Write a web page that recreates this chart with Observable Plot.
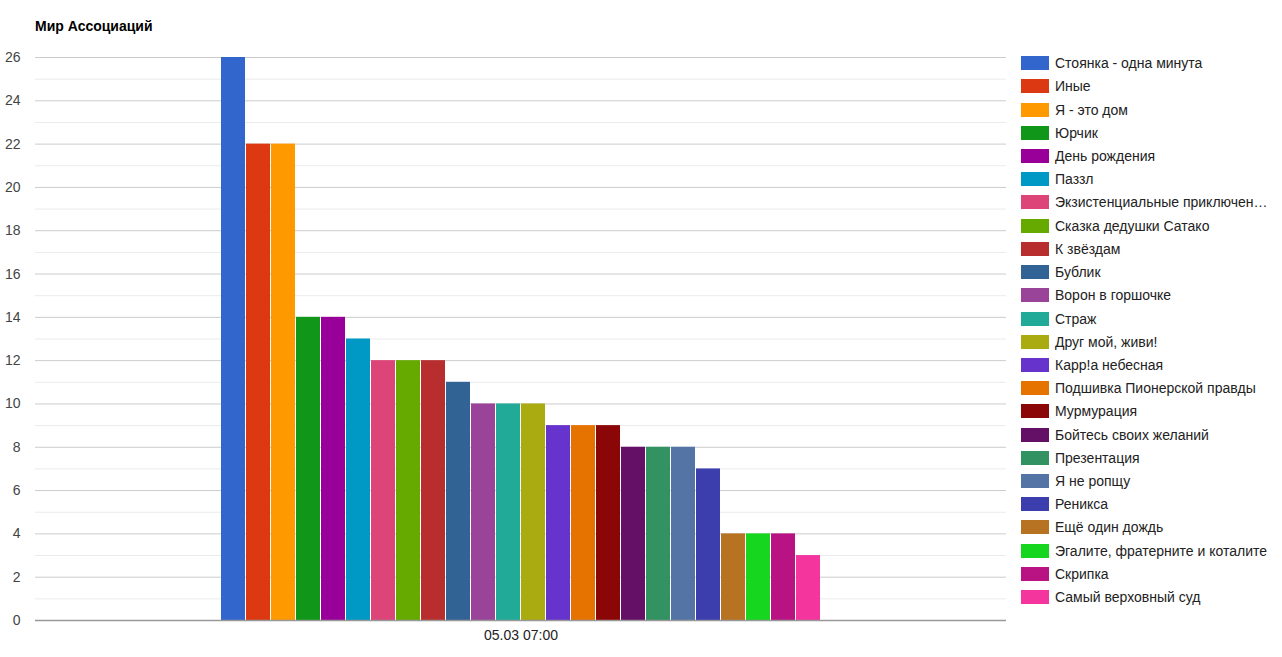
<!DOCTYPE html>
<html>
<head>
<meta charset="utf-8">
<script src="https://cdn.jsdelivr.net/npm/d3@7"></script>
<script src="https://cdn.jsdelivr.net/npm/@observablehq/plot@0.6"></script>
<style>
  html, body { margin: 0; padding: 0; background: #fff; }
  body { width: 1282px; height: 657px; position: relative; overflow: hidden; font-family: Arial, "Liberation Sans", sans-serif; }
  #title { position: absolute; left: 35px; top: 18px; font-size: 14px; font-weight: bold; color: #000; }
  #chart { position: absolute; left: 0; top: 0; }
  #legend { position: absolute; left: 1021px; top: 51.5px; width: 258px; }
  .row { height: 23.22px; display: flex; align-items: center; font-size: 14px; color: #222; white-space: nowrap; }
  .sw { width: 28px; height: 14px; margin-right: 6px; flex: none; }
</style>
</head>
<body>
<div id="chart"></div>
<div id="title">Мир Ассоциаций</div>
<div id="legend"></div>
<script>
const title = "Мир Ассоциаций";
const categories = ["05.03 07:00"];
const series = [
  "Стоянка - одна минута", "Иные", "Я - это дом", "Юрчик", "День рождения", "Паззл",
  "Экзистенциальные приключен…", "Сказка дедушки Сатако", "К звёздам", "Бублик",
  "Ворон в горшочке", "Страж", "Друг мой, живи!", "Карр!а небесная",
  "Подшивка Пионерской правды", "Мурмурация", "Бойтесь своих желаний", "Презентация",
  "Я не ропщу", "Реникса", "Ещё один дождь", "Эгалите, фратерните и коталите",
  "Скрипка", "Самый верховный суд"
];
const values = [26, 22, 22, 14, 14, 13, 12, 12, 12, 11, 10, 10, 10, 9, 9, 9, 8, 8, 8, 7, 4, 4, 4, 3];
const colors = [
  "#3366cc", "#dc3912", "#ff9900", "#109618", "#990099", "#0099c6", "#dd4477", "#66aa00",
  "#b82e2e", "#316395", "#994499", "#22aa99", "#aaaa11", "#6633cc", "#e67300", "#8b0707",
  "#651067", "#329262", "#5574a6", "#3b3eac", "#b77322", "#16d620", "#b91383", "#f4359e"
];
const majorTicks = [0, 2, 4, 6, 8, 10, 12, 14, 16, 18, 20, 22, 24, 26];
const minorTicks = [1, 3, 5, 7, 9, 11, 13, 15, 17, 19, 21, 23, 25];

const data = series.map((s, i) => ({series: s, value: values[i], category: categories[0]}));

const chart = Plot.plot({
  width: 1006,
  height: 657,
  marginLeft: 35,
  marginRight: 0,
  marginTop: 57,
  marginBottom: 37,
  style: {fontFamily: "Arial, 'Liberation Sans', sans-serif", fontSize: "14px", background: "transparent"},
  x: {type: "band", domain: series, paddingInner: 0, paddingOuter: 7.42, round: false, axis: null},
  y: {domain: [0, 26], axis: null, label: null},
  color: {type: "ordinal", domain: series, range: colors},
  marks: [
    Plot.ruleY(minorTicks, {stroke: "#ebebeb", strokeWidth: 1}),
    Plot.ruleY(majorTicks.filter(d => d !== 0), {stroke: "#cccccc", strokeWidth: 1}),
    Plot.barY(data, {x: "series", y: "value", fill: "series", insetLeft: 0.5, insetRight: 0.5}),
    Plot.ruleY([0], {stroke: "#999999", strokeWidth: 1.5}),
    Plot.axisY(majorTicks, {tickSize: 0, tickPadding: 15, fill: "#444", fontSize: 14, textAnchor: "end", label: null}),
    Plot.text(categories, {text: d => d, frameAnchor: "bottom", dy: 19, fill: "#222", fontSize: 14})
  ]
});
document.getElementById("chart").appendChild(chart);

const legend = d3.select("#legend");
series.forEach((s, i) => {
  const row = legend.append("div").attr("class", "row");
  row.append("div").attr("class", "sw").style("background", colors[i]);
  row.append("span").text(s);
});
</script>
</body>
</html>
